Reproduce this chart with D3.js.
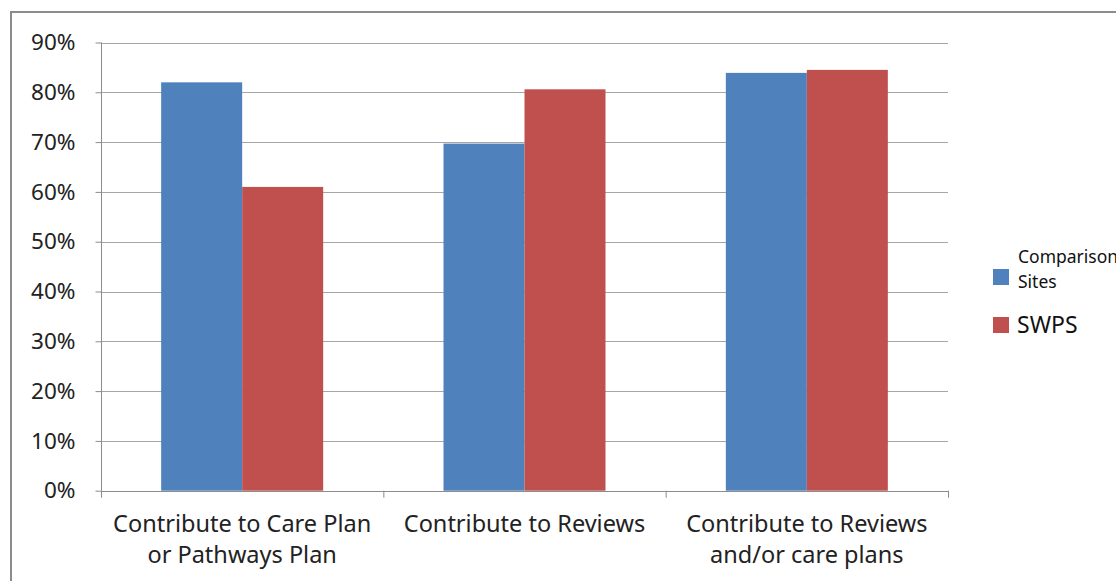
<!DOCTYPE html>
<html><head><meta charset="utf-8">
<script src="https://cdn.jsdelivr.net/npm/d3@7"></script>
<style>body{margin:0;background:#fff}svg{display:block}</style>
</head><body>
<script>
const categories = [["Contribute to Care Plan","or Pathways Plan"],["Contribute to Reviews"],["Contribute to Reviews","and/or care plans"]];
const seriesNames = [["Comparison","Sites"],["SWPS"]];
const comparison = [0.82, 0.697, 0.839];
const swps = [0.61, 0.806, 0.845];
const yTicks = [0,0.1,0.2,0.3,0.4,0.5,0.6,0.7,0.8,0.9];
const colors = ["#4f81bd","#c0504d"];

(function(){
const W=1116,H=581;
const svg=d3.select("body").append("svg").attr("width",W).attr("height",H);
svg.append("rect").attr("x",11).attr("y",12).attr("width",W+20).attr("height",H+20)
  .attr("fill","#fff").attr("stroke","#8c8c8c").attr("stroke-width",2);

const pL=101,pR=948,pT=42.5,pB=490.7;
const y=d3.scaleLinear().domain([0,0.9]).range([pB,pT]);
const x=d3.scaleBand().domain(d3.range(3)).range([pL,pR]).paddingInner(0).paddingOuter(0);
const font="'Noto Sans', sans-serif";

svg.append("g").selectAll("line").data(yTicks.slice(1)).join("line")
  .attr("x1",pL).attr("x2",pR).attr("y1",d=>Math.round(y(d))+0.5).attr("y2",d=>Math.round(y(d))+0.5)
  .attr("stroke","#a6a6a6").attr("stroke-width",1.2);

const yAxis=d3.axisLeft(y).tickValues(yTicks).tickFormat(d3.format(".0%")).tickSize(6).tickPadding(20);
const ya=svg.append("g").attr("transform",`translate(${pL+0.5},0)`).call(yAxis);
ya.select(".domain").attr("stroke","#8c8c8c").attr("d",`M0,${pT}V${pB}`);
ya.selectAll(".tick line").attr("stroke","#8c8c8c");
ya.selectAll(".tick text").attr("font-family",font).attr("font-size",22.5).attr("fill","#222");

const bw=81;
[comparison,swps].forEach((vals,si)=>{
  svg.append("g").selectAll("rect").data(vals).join("rect")
    .attr("x",(d,i)=>x(i)+x.bandwidth()/2-bw+si*bw)
    .attr("width",bw)
    .attr("y",d=>y(d)).attr("height",d=>pB-y(d))
    .attr("fill",colors[si]);
});

svg.append("line").attr("x1",pL).attr("x2",pR).attr("y1",Math.round(pB)+0.5).attr("y2",Math.round(pB)+0.5)
  .attr("stroke","#8c8c8c").attr("stroke-width",1.2);
const bounds=[0,1,2].map(i=>x(i)).concat([pR]);
svg.append("g").selectAll("line").data(bounds).join("line")
  .attr("x1",d=>d+0.5).attr("x2",d=>d+0.5).attr("y1",pB).attr("y2",pB+7)
  .attr("stroke","#8c8c8c");

categories.forEach((lines,i)=>{
  const cx=x(i)+x.bandwidth()/2;
  const t=svg.append("text").attr("x",cx).attr("y",532)
    .attr("text-anchor","middle").attr("font-family",font).attr("font-size",23.5).attr("fill","#222");
  lines.forEach((l,j)=>t.append("tspan").attr("x",cx).attr("dy",j?31:0).text(l));
});

const lg=svg.append("g");
lg.append("rect").attr("x",993).attr("y",269).attr("width",16).attr("height",16).attr("fill",colors[0]);
lg.append("text").attr("x",1018).attr("y",263).attr("font-family",font).attr("font-size",17.5).attr("fill","#111").text(seriesNames[0][0]);
lg.append("text").attr("x",1018).attr("y",288).attr("font-family",font).attr("font-size",17.5).attr("fill","#111").text(seriesNames[0][1]);
lg.append("rect").attr("x",993).attr("y",317).attr("width",16).attr("height",16).attr("fill",colors[1]);
lg.append("text").attr("x",1017).attr("y",333).attr("font-family",font).attr("font-size",23).attr("fill","#111").text(seriesNames[1][0]);
})();
</script>
</body></html>
